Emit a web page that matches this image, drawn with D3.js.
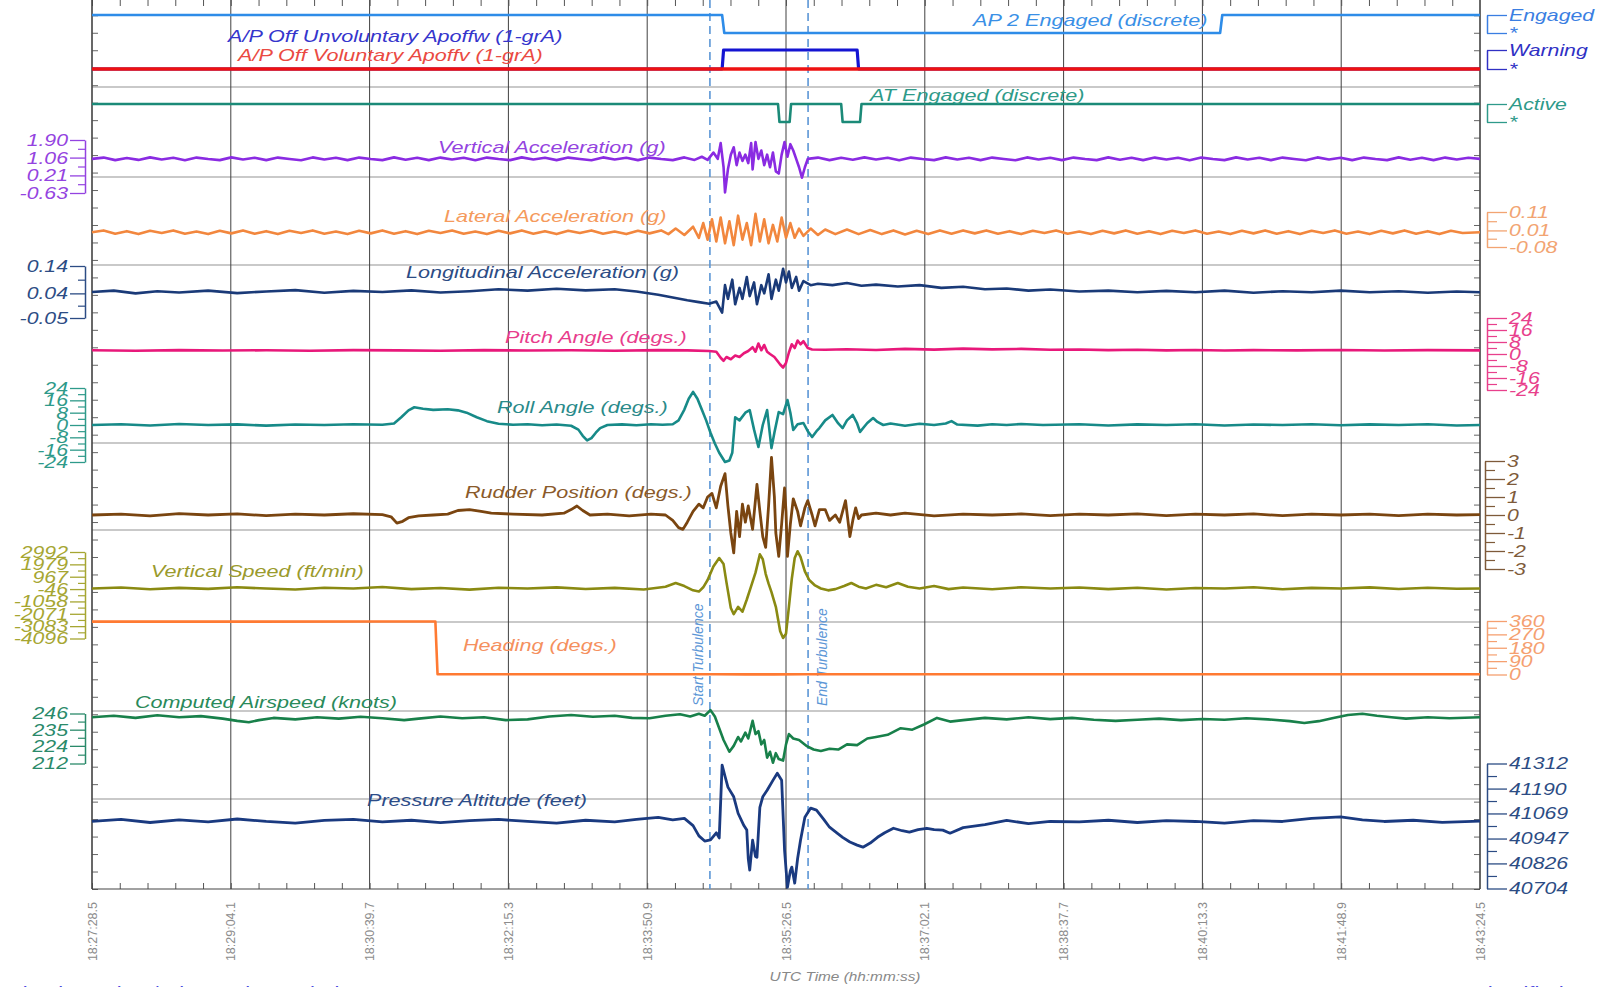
<!DOCTYPE html>
<html>
<head>
<meta charset="utf-8">
<script src="https://cdn.jsdelivr.net/npm/d3@7"></script>
<style>
  body { margin: 0; background: #fff; }
  svg text { font-family: "Liberation Sans", Arial, sans-serif; font-style: italic; }
</style>
</head>
<body>
<div id="chart"></div>
<script>
// time is in seconds after 18:27:28.5
const timeLabels = ["18:27:28.5", "18:29:04.1", "18:30:39.7", "18:32:15.3", "18:33:50.9", "18:35:26.5",
  "18:37:02.1", "18:38:37.7", "18:40:13.3", "18:41:48.9", "18:43:24.5"];
const timeTicks = [0, 95.6, 191.2, 286.8, 382.4, 478, 573.6, 669.2, 764.8, 860.4, 956];
const turbulenceTimes = [425.6, 493.2];
const turbulenceLabels = ["Start Turbulence", "End Turbulence"];

const seriesNames = ["A/P Off Unvoluntary Apoffw (1-grA)", "A/P Off Voluntary Apoffv (1-grA)",
  "AP 2 Engaged (discrete)", "AT Engaged (discrete)", "Vertical Acceleration (g)",
  "Lateral Acceleration (g)", "Longitudinal Acceleration (g)", "Pitch Angle (degs.)",
  "Roll Angle (degs.)", "Rudder Position (degs.)", "Vertical Speed (ft/min)", "Heading (degs.)",
  "Computed Airspeed (knots)", "Pressure Altitude (feet)"];

// discrete signals (1 = on)
const ap2Engaged = [[0, 1], [434, 1], [435.5, 0], [777, 0], [778.5, 1], [956, 1]];
const apOffUnvol = [[0, 0], [434, 0], [435, 1], [527, 1], [528, 0], [956, 0]];
const apOffVol = [[0, 0], [956, 0]];
const atEngaged = [[0, 1], [472.5, 1], [473.5, 0], [480.5, 0], [481.5, 1], [516, 1], [517, 0], [529, 0], [530, 1], [956, 1]];

const vertAccel = [[0,1.0],[8,1.06],[16,0.94],[24,1.04],[32,0.95],[40,1.07],[48,0.97],[56,1.05],[64,0.93],[72,1.06],[80,0.99],[88,0.94],[96,1.07],[104,0.97],[112,1.05],[120,0.94],[128,1.06],[136,0.99],[144,0.93],[152,1.07],[160,0.97],[168,1.05],[176,0.94],[184,1.06],[192,0.99],[200,0.94],[208,1.07],[216,0.96],[224,1.05],[232,0.94],[240,1.06],[248,0.97],[256,1.05],[264,0.93],[272,1.06],[280,0.99],[288,0.94],[296,1.07],[304,0.97],[312,1.05],[320,0.94],[328,1.06],[336,0.99],[344,0.93],[352,1.07],[360,0.97],[368,1.05],[376,0.94],[384,1.06],[392,0.99],[400,0.94],[408,1.07],[415,0.95],[420,1.1],[424,0.95],[428,1.3],[431,1.0],[433,1.75],[435,0.6],[436,-0.6],[438,0.5],[440,1.2],[442,1.55],[444,0.7],[446,1.3],[448,0.9],[450,1.2],[452,0.8],[454,1.75],[455,0.5],[457,1.8],[459,1.0],[461,1.4],[463,0.7],[465,1.2],[467,0.6],[469,1.3],[471,0.4],[473,0.3],[475,1.2],[477,1.8],[479,1.1],[481,1.7],[483,1.4],[485,1.0],[487,0.6],[489,0.1],[491,0.6],[493,1.0],[500,1.06],[508,0.94],[516,1.05],[524,0.96],[532,1.07],[540,0.97],[548,1.05],[556,0.93],[564,1.06],[572,0.99],[580,0.94],[588,1.07],[596,0.97],[604,1.05],[612,0.94],[620,1.06],[628,0.99],[636,0.93],[644,1.07],[652,0.97],[660,1.05],[668,0.94],[676,1.06],[684,0.99],[692,0.94],[700,1.07],[708,0.96],[716,1.05],[724,0.94],[732,1.06],[740,0.97],[748,1.05],[756,0.93],[764,1.06],[772,0.99],[780,0.94],[788,1.07],[796,0.97],[804,1.05],[812,0.94],[820,1.06],[828,0.99],[836,0.93],[844,1.07],[852,0.97],[860,1.05],[868,0.94],[876,1.06],[884,0.99],[892,0.94],[900,1.07],[908,0.96],[916,1.05],[924,0.94],[932,1.06],[940,0.97],[948,1.05],[956,1.0]];

const latAccel = [[0,0.0],[8,0.01],[16,-0.008],[24,0.006],[32,-0.01],[40,0.008],[48,-0.004],[56,0.01],[64,-0.008],[72,0.004],[80,-0.01],[88,0.008],[96,-0.006],[104,0.01],[112,-0.008],[120,0.006],[128,-0.01],[136,0.008],[144,-0.004],[152,0.01],[160,-0.008],[168,0.004],[176,-0.01],[184,0.008],[192,-0.006],[200,0.01],[208,-0.008],[216,0.006],[224,-0.01],[232,0.008],[240,-0.004],[248,0.01],[256,-0.008],[264,0.004],[272,-0.01],[280,0.008],[288,-0.006],[296,0.01],[304,-0.008],[312,0.006],[320,-0.01],[328,0.008],[336,-0.004],[344,0.01],[352,-0.008],[360,0.004],[368,-0.01],[376,0.008],[384,-0.006],[392,0.01],[397,-0.01],[402,0.02],[408,-0.015],[414,0.03],[418,-0.03],[421,0.05],[424,-0.04],[427,0.07],[430,-0.05],[433,0.08],[436,-0.06],[439,0.06],[442,-0.07],[445,0.09],[448,-0.04],[451,0.05],[454,-0.07],[457,0.1],[460,-0.05],[463,0.07],[466,-0.06],[469,0.04],[472,-0.05],[475,0.08],[478,-0.03],[481,0.05],[484,-0.03],[487,0.02],[490,-0.02],[495,0.02],[500,-0.015],[505,0.015],[512,-0.01],[520,0.015],[528,-0.01],[536,0.012],[544,-0.01],[552,0.01],[560,-0.012],[568,0.008],[576,-0.01],[584,0.01],[592,-0.008],[600,0.01],[608,-0.006],[616,0.01],[624,-0.008],[632,0.006],[640,-0.01],[648,0.008],[656,-0.004],[664,0.01],[672,-0.008],[680,0.004],[688,-0.01],[696,0.008],[704,-0.006],[712,0.01],[720,-0.008],[728,0.006],[736,-0.01],[744,0.008],[752,-0.004],[760,0.01],[768,-0.008],[776,0.004],[784,-0.01],[792,0.008],[800,-0.006],[808,0.01],[816,-0.008],[824,0.006],[832,-0.01],[840,0.008],[848,-0.004],[856,0.01],[864,-0.008],[872,0.004],[880,-0.01],[888,0.008],[896,-0.006],[904,0.01],[912,-0.008],[920,0.006],[928,-0.01],[936,0.008],[944,-0.004],[956,0.0]];

const lonAccel = [[0,0.045],[15,0.05],[30,0.04],[45,0.048],[60,0.043],[80,0.05],[100,0.041],[120,0.047],[140,0.052],[160,0.042],[180,0.049],[200,0.045],[220,0.051],[240,0.043],[260,0.048],[280,0.055],[300,0.05],[320,0.057],[340,0.051],[360,0.055],[375,0.047],[390,0.035],[400,0.025],[410,0.015],[418,0.008],[425,0.002],[430,0.01],[434,-0.03],[436,0.07],[438,0.02],[441,0.09],[443,0.0],[446,0.06],[448,0.02],[451,0.1],[453,0.03],[456,0.08],[458,0.0],[461,0.07],[463,0.04],[466,0.11],[468,0.02],[471,0.09],[473,0.05],[476,0.13],[478,0.08],[480,0.12],[482,0.06],[485,0.1],[487,0.05],[490,0.085],[495,0.07],[500,0.075],[510,0.07],[520,0.078],[530,0.068],[540,0.072],[555,0.065],[570,0.07],[585,0.06],[600,0.064],[615,0.055],[630,0.058],[645,0.05],[660,0.054],[680,0.047],[700,0.05],[720,0.044],[740,0.049],[760,0.044],[780,0.05],[800,0.042],[820,0.048],[840,0.044],[860,0.05],[880,0.044],[900,0.048],[920,0.042],[940,0.047],[956,0.044]];

const pitch = [[0,2.5],[30,2.2],[60,2.6],[90,2.3],[120,2.5],[150,2.2],[180,2.6],[210,2.4],[240,2.2],[270,2.6],[300,2.3],[330,2.5],[360,2.2],[390,2.6],[410,2.4],[425,2.0],[430,1.5],[433,-2.5],[435,-4.5],[437,-2.0],[440,-3.5],[443,-1.0],[446,-2.0],[449,0.5],[452,2.0],[455,4.5],[457,1.5],[459,7.0],[461,2.5],[463,6.0],[465,1.5],[467,0.0],[470,-2.0],[472,-4.5],[474,-7.0],[476,-9.0],[478,-6.0],[480,1.0],[482,6.5],[484,4.0],[486,9.0],[488,6.5],[490,8.5],[493,4.0],[496,3.0],[505,2.8],[520,3.2],[540,2.7],[560,3.4],[580,2.9],[600,3.6],[620,3.1],[640,3.4],[660,2.8],[680,3.0],[700,2.6],[720,2.8],[740,2.4],[760,2.7],[780,2.3],[800,2.6],[830,2.4],[860,2.7],[890,2.3],[920,2.6],[956,2.4]];

const roll = [[0,0],[20,0.5],[40,-0.3],[60,0.6],[80,0.0],[100,0.4],[120,-0.4],[140,0.3],[160,0.0],[180,0.5],[200,0.2],[208,1.0],[213,5.0],[218,9.5],[222,11.5],[228,10.5],[235,9.8],[245,10.2],[252,9.5],[258,8.0],[265,5.0],[272,2.5],[280,0.8],[290,0.2],[300,0.5],[310,-0.2],[320,0.3],[330,-0.5],[335,-3.0],[338,-7.0],[341,-10.0],[344,-8.5],[347,-5.0],[350,-2.0],[355,0.0],[365,0.4],[375,-0.2],[385,0.5],[393,0.2],[400,0.5],[404,3],[408,10],[411,17],[414,21.5],[417,17],[420,10],[423,3],[426,-5],[429,-12],[432,-18],[436,-24],[439,-23],[441,-18],[443,5],[446,3],[450,8],[453,9.7],[456,-3],[459,-14.3],[462,0],[465,9.7],[468,-15],[470,-5],[473,8.4],[476,7],[479,16.2],[481,8],[483,-3.2],[486,0.5],[490,1.3],[493,-4],[496,-7.8],[499,-4],[501,-2],[505,3],[510,6.5],[514,1],[517,-2],[520,3],[524,6.5],[527,1],[529,-4.5],[532,-1],[534,1.3],[538,4.5],[541,2],[545,0],[550,1.0],[560,-0.5],[570,0.8],[580,0.0],[588,1.0],[592,2.5],[596,0.3],[610,-0.4],[620,0.5],[630,0.0],[640,0.6],[655,0.0],[680,0.5],[700,-0.3],[720,0.4],[740,0.0],[760,0.5],[780,-0.3],[800,0.3],[820,0.0],[840,0.5],[860,-0.2],[880,0.4],[900,0.0],[920,0.5],[940,-0.3],[956,0.0]];

const rudder = [[0,0],[20,0.05],[40,-0.05],[60,0.08],[80,0.0],[100,0.06],[120,-0.04],[140,0.05],[160,0.0],[180,0.07],[200,0.02],[206,-0.1],[210,-0.45],[214,-0.35],[218,-0.15],[225,-0.05],[235,0.0],[245,0.05],[252,0.25],[260,0.3],[268,0.2],[275,0.1],[290,0.05],[310,0.0],[325,0.1],[330,0.3],[334,0.5],[338,0.25],[343,0.0],[355,0.05],[370,-0.05],[385,0.05],[395,0.0],[400,-0.3],[404,-0.7],[407,-0.8],[410,-0.4],[414,0.2],[418,0.6],[421,0.4],[424,1.0],[427,1.2],[430,0.4],[433,1.6],[436,2.3],[438,0.5],[440,-1.0],[442,-2.1],[444,0.2],[446,-1.2],[448,0.6],[450,-0.4],[452,0.5],[455,-0.8],[458,1.7],[460,0.2],[462,-1.2],[464,-1.8],[466,0.5],[468,3.2],[470,1.0],[471,-1.0],[473,-2.3],[475,-0.5],[477,1.5],[478,0.2],[479,-2.3],[481,-0.5],[483,0.9],[486,0.2],[488,-0.6],[491,0.4],[493,0.8],[496,0.0],[498,-0.6],[501,0.3],[505,0.3],[508,-0.3],[512,0.0],[515,-0.4],[519,0.8],[522,-1.2],[524,-0.3],[526,0.4],[528,-0.2],[530,0.0],[540,0.1],[550,0.0],[560,0.1],[580,-0.05],[600,0.05],[620,0.0],[640,0.06],[660,-0.04],[680,0.05],[700,0.0],[720,0.06],[740,-0.03],[760,0.05],[780,0.0],[800,0.06],[820,-0.04],[840,0.05],[860,0.0],[880,0.05],[900,-0.03],[920,0.05],[940,0.0],[956,0.02]];

const vertSpeed = [[0,0],[20,80],[40,-60],[60,50],[80,-30],[100,100],[120,0],[140,-80],[160,60],[180,0],[200,120],[220,-50],[240,40],[260,-90],[280,60],[300,0],[320,90],[340,-40],[360,50],[380,-80],[395,150],[402,450],[408,200],[414,-150],[418,-250],[421,100],[424,700],[428,1800],[432,2500],[435,2000],[437,500],[440,-1600],[442,-2100],[445,-1500],[448,-1900],[451,-900],[454,200],[457,1300],[460,2800],[462,2400],[464,1200],[466,400],[468,-300],[471,-1500],[474,-3500],[476,-4050],[478,-3700],[480,-1500],[482,800],[484,2500],[486,3050],[488,2600],[491,1400],[494,700],[498,250],[502,0],[507,-150],[512,-50],[518,200],[523,450],[528,150],[533,0],[540,300],[547,100],[555,450],[562,150],[570,0],[580,200],[590,-50],[600,80],[620,-60],[640,100],[660,0],[680,80],[700,-50],[720,60],[740,-80],[760,40],[780,0],[800,100],[820,-60],[840,50],[860,0],[880,90],[900,-40],[920,60],[940,-20],[956,0]];

const heading = [[0,356],[100,356],[200,356.5],[236.5,356.5],[238,1.5],[300,1.5],[400,1.8],[430,1.2],[450,0.8],[470,1.0],[490,1.5],[600,1.6],[800,1.5],[956,1.5]];

const airspeed = [[0,243.5],[15,244.5],[30,243],[45,244.8],[60,243.5],[75,244.2],[90,242.5],[100,241],[108,240],[115,241.5],[125,243],[140,242],[155,243.5],[170,242.5],[185,243.8],[200,242.8],[215,241.5],[225,242.5],[240,244],[255,242.8],[270,243.5],[285,241.5],[300,242],[315,244],[330,245],[345,243.8],[360,244.5],[372,243],[384,242.8],[395,244.5],[405,245.5],[412,244],[418,245.8],[422,244.5],[426,248.3],[429,244],[432,236],[435,228],[439,220],[442,224],[445,230],[447,227],[450,233],[452,229],[455,241],[457,232],[459,234],[461,225],[463,228],[465,216],[467,220],[469,212.5],[471,219],[473,215],[476,214],[478,225],[480,232],[483,229],[487,228],[492,224],[497,221.5],[502,220.5],[508,222],[514,221.5],[520,225],[527,224.5],[534,229],[540,230],[548,231.5],[557,236],[565,235],[573,238.5],[582,243],[591,240.5],[600,241.5],[615,243],[630,242],[645,243.5],[660,242.2],[675,243],[690,241.8],[705,241],[720,241.8],[735,242.5],[750,241.5],[765,242.3],[780,241.8],[795,242.8],[810,242],[825,240.8],[835,239.5],[845,240.8],[855,243],[865,245],[875,245.8],[885,244.5],[895,243.5],[905,242.5],[920,243.5],[935,242.8],[956,243.5]];

const altitude = [[0,41030],[20,41040],[40,41025],[60,41038],[80,41028],[100,41042],[120,41030],[140,41022],[160,41035],[180,41040],[200,41028],[220,41036],[240,41024],[260,41034],[280,41040],[300,41030],[320,41022],[340,41036],[360,41028],[375,41040],[390,41050],[400,41038],[408,41045],[414,41010],[418,40960],[422,40935],[426,40940],[430,40975],[432,40950],[434,41304],[436,41250],[438,41197],[442,41150],[445,41070],[449,41010],[451,40988],[452,40850],[453,40793],[455,40939],[457,40860],[458,40856],[460,41099],[462,41150],[465,41182],[469,41230],[472,41265],[475,41231],[477,40890],[479,40710],[481,40790],[482,40808],[484,40730],[486,40850],[488,40939],[491,41051],[495,41095],[499,41085],[504,41040],[508,41002],[513,40975],[517,40953],[522,40930],[527,40915],[531,40905],[536,40925],[541,40953],[546,40975],[552,40997],[558,40985],[563,40978],[569,40990],[575,40997],[580,40990],[586,40988],[591,40973],[600,41000],[615,41015],[630,41035],[645,41020],[660,41030],[680,41028],[700,41036],[720,41025],[740,41034],[760,41030],[780,41022],[800,41034],[820,41030],[840,41045],[860,41052],[875,41038],[890,41030],[910,41036],[930,41026],[956,41032]];

// axis tick values
const vertAccelTicks = [1.90, 1.06, 0.21, -0.63];
const lonAccelTicks = [0.14, 0.04, -0.05];
const rollTicks = [24, 16, 8, 0, -8, -16, -24];
const vertSpeedTicks = [2992, 1979, 967, -46, -1058, -2071, -3083, -4096];
const airspeedTicks = [246, 235, 224, 212];
const latAccelTicks = [0.11, 0.01, -0.08];
const pitchTicks = [24, 16, 8, 0, -8, -16, -24];
const rudderTicks = [3, 2, 1, 0, -1, -2, -3];
const headingTicks = [360, 270, 180, 90, 0];
const altitudeTicks = [41312, 41190, 41069, 40947, 40826, 40704];
const stateNames = [["Engaged", "*"], ["Warning", "*"], ["Active", "*"]];

const footerLeft = "Kinetic Motion / Kinematics Turbulence";
const footerRight = "System Identified";

// ---------- layout ----------
const W = 1609, H = 987;
const plot = { left: 92, right: 1480, top: 0, bottom: 889 };
const STRETCH = 1.27; // the reference text is wide

const x = d3.scaleLinear().domain([0, 956]).range([plot.left, plot.right]);

const engagedY = d3.scaleLinear().domain([0, 1]).range([33, 15]);
const warnY = d3.scaleLinear().domain([0, 1]).range([69, 50]);
const activeY = d3.scaleLinear().domain([0, 1]).range([122, 104]);
const vaccY = d3.scaleLinear().domain([-0.63, 1.90]).range([193, 140]);
const latY = d3.scaleLinear().domain([-0.08, 0.11]).range([247, 212]);
const lonY = d3.scaleLinear().domain([-0.05, 0.14]).range([318, 266]);
const pitchY = d3.scaleLinear().domain([-24, 24]).range([390, 318]);
const rollY = d3.scaleLinear().domain([-24, 24]).range([462, 388]);
const rudY = d3.scaleLinear().domain([-3, 3]).range([569, 461]);
const vsY = d3.scaleLinear().domain([-4096, 2992]).range([638.5, 552]);
const hdgY = d3.scaleLinear().domain([0, 360]).range([674.5, 621]);
const casY = d3.scaleLinear().domain([212, 246]).range([763.5, 713.5]);
const altY = d3.scaleLinear().domain([40704, 41312]).range([888.5, 763.5]);
const frameY = d3.scaleLinear().domain([0, 50]).range([15.3, 889]);

const grayLines = [87, 177, 265, 443, 530, 622, 711, 799];

// plain hyphen minus like the reference
const fixed2 = (d) => d.toFixed(2);
const whole = (d) => String(d);

const svg = d3.select("#chart").append("svg").attr("width", W).attr("height", H);

function widen(sel, k) {
  sel.each(function () {
    const w = this.getComputedTextLength();
    d3.select(this).attr("textLength", w * k).attr("lengthAdjust", "spacingAndGlyphs");
  });
}

// light gray separators
svg.selectAll(".sep").data(grayLines).enter().append("line")
  .attr("x1", plot.left).attr("x2", plot.right)
  .attr("y1", (d) => d).attr("y2", (d) => d)
  .attr("stroke", "#c9c9c9").attr("stroke-width", 2);

// vertical time grid
svg.selectAll(".vgrid").data(timeTicks).enter().append("line")
  .attr("x1", (d) => x(d)).attr("x2", (d) => x(d))
  .attr("y1", plot.top).attr("y2", plot.bottom)
  .attr("stroke", "#404040").attr("stroke-width", 1);

// frame ticks
const minorTimes = d3.range(0, 50).map((i) => i * 19.12);
svg.append("g").attr("transform", `translate(0,${plot.bottom})`)
  .call(d3.axisTop(x).tickValues(minorTimes).tickSize(6).tickSizeOuter(0).tickFormat(""))
  .call((g) => g.select(".domain").remove())
  .selectAll("line").attr("stroke", "#555");
svg.append("g").attr("transform", `translate(0,${plot.top})`)
  .call(d3.axisBottom(x).tickValues(minorTimes).tickSize(6).tickSizeOuter(0).tickFormat(""))
  .call((g) => g.select(".domain").remove())
  .selectAll("line").attr("stroke", "#555");
svg.append("g").attr("transform", `translate(${plot.left},0)`)
  .call(d3.axisRight(frameY).ticks(50).tickSize(6).tickSizeOuter(0).tickFormat(""))
  .call((g) => g.select(".domain").remove())
  .selectAll("line").attr("stroke", "#666");
svg.append("g").attr("transform", `translate(${plot.right},0)`)
  .call(d3.axisLeft(frameY).ticks(50).tickSize(6).tickSizeOuter(0).tickFormat(""))
  .call((g) => g.select(".domain").remove())
  .selectAll("line").attr("stroke", "#666");

// frame lines
svg.append("line").attr("x1", plot.left).attr("x2", plot.left).attr("y1", 0).attr("y2", plot.bottom)
  .attr("stroke", "#444").attr("stroke-width", 1.2);
svg.append("line").attr("x1", plot.right).attr("x2", plot.right).attr("y1", 0).attr("y2", plot.bottom)
  .attr("stroke", "#444").attr("stroke-width", 1.2);
svg.append("line").attr("x1", plot.left).attr("x2", plot.right).attr("y1", plot.bottom).attr("y2", plot.bottom)
  .attr("stroke", "#444").attr("stroke-width", 1.2);

// turbulence markers
svg.selectAll(".turb").data(turbulenceTimes).enter().append("line")
  .attr("x1", (d) => x(d)).attr("x2", (d) => x(d))
  .attr("y1", plot.top).attr("y2", plot.bottom)
  .attr("stroke", "#5b96d6").attr("stroke-width", 1.6).attr("stroke-dasharray", "8,5");
svg.selectAll(".turbLabel").data(turbulenceTimes).enter().append("text")
  .attr("transform", (d, i) => `translate(${x(d) + (i === 0 ? -7 : 19)},706) rotate(-90)`)
  .attr("fill", "#5b96d6").style("font-size", "14px")
  .text((d, i) => turbulenceLabels[i]);

// signals
const line = (yScale) => d3.line().x((d) => x(d[0])).y((d) => yScale(d[1]));
const signals = [
  { data: ap2Engaged, y: engagedY, color: "#2e8ce8", w: 2.6 },
  { data: apOffUnvol, y: warnY, color: "#1414d2", w: 3.2 },
  { data: apOffVol, y: warnY, color: "#ee1111", w: 3.4 },
  { data: atEngaged, y: activeY, color: "#1b8a78", w: 2.6 },
  { data: vertAccel, y: vaccY, color: "#8a2be2", w: 2.6 },
  { data: latAccel, y: latY, color: "#f2873e", w: 2.6 },
  { data: lonAccel, y: lonY, color: "#1a3a78", w: 2.6 },
  { data: pitch, y: pitchY, color: "#e8187a", w: 2.6 },
  { data: roll, y: rollY, color: "#178a88", w: 2.6 },
  { data: rudder, y: rudY, color: "#7a4510", w: 2.8 },
  { data: vertSpeed, y: vsY, color: "#8a8a12", w: 2.6 },
  { data: heading, y: hdgY, color: "#ff7a32", w: 2.6 },
  { data: airspeed, y: casY, color: "#18804a", w: 2.6 },
  { data: altitude, y: altY, color: "#1a3a80", w: 2.8 }
];
signals.forEach((s) => {
  svg.append("path").datum(s.data)
    .attr("fill", "none").attr("stroke", s.color).attr("stroke-width", s.w)
    .attr("stroke-linejoin", "round").attr("d", line(s.y));
});

// series labels
const labelColors = ["#3535cc", "#ea4a42", "#3a90e6", "#2e9a88", "#9443e0", "#f59a5c", "#2c4c84",
  "#e83c8c", "#2a8a8a", "#8a5a2a", "#9a9a2c", "#f5905e", "#2a8a5a", "#2c4c88"];
const labelPos = [[228, 42], [238, 61], [973, 26], [870, 101], [438, 153], [444, 222], [406, 278],
  [505, 343], [497, 413], [465, 498], [151, 577], [463, 651], [135, 708], [367, 806]];
const labels = svg.selectAll(".slabel").data(seriesNames).enter().append("text")
  .attr("x", (d, i) => labelPos[i][0]).attr("y", (d, i) => labelPos[i][1])
  .attr("fill", (d, i) => labelColors[i]).style("font-size", "17px")
  .text((d) => d);
widen(labels, STRETCH);

// value axes
function valueAxis(side, xPos, scale, ticks, fmt, color, minor = true) {
  const left = side === "left";
  const ax = (left ? d3.axisLeft(scale) : d3.axisRight(scale))
    .tickValues(ticks).tickSize(left ? 15 : 20).tickSizeOuter(0).tickPadding(2).tickFormat(fmt);
  const g = svg.append("g").attr("transform", `translate(${xPos},0)`).call(ax);
  g.select(".domain").attr("stroke", color).attr("stroke-width", 1.5);
  g.selectAll(".tick line").attr("stroke", color).attr("stroke-width", 1.3);
  const txt = g.selectAll(".tick text").attr("fill", color)
    .style("font-size", "17px").style("font-family", '"Liberation Sans", Arial, sans-serif');
  widen(txt, STRETCH - 0.02);
  if (minor) {
    const mids = d3.pairs(ticks).map((p) => (p[0] + p[1]) / 2);
    const m = svg.append("g").attr("transform", `translate(${xPos},0)`)
      .call((left ? d3.axisLeft(scale) : d3.axisRight(scale)).tickValues(mids).tickSize(left ? 7 : 10).tickFormat(""));
    m.select(".domain").remove();
    m.selectAll("line").attr("stroke", color).attr("stroke-width", 1.2);
  }
}

valueAxis("left", 85, vaccY, vertAccelTicks, fixed2, "#9443e0");
valueAxis("left", 85, lonY, lonAccelTicks, fixed2, "#2c4c84");
valueAxis("left", 85, rollY, rollTicks, whole, "#2e9a8a");
valueAxis("left", 85, vsY, vertSpeedTicks, whole, "#a6a632");
valueAxis("left", 85, casY, airspeedTicks, whole, "#2a8a6a");
valueAxis("right", 1487, latY, latAccelTicks, fixed2, "#f2a472");
valueAxis("right", 1487, pitchY, pitchTicks, whole, "#e8408c");
valueAxis("right", 1485, rudY, rudderTicks, whole, "#7e5a3a");
valueAxis("right", 1487, hdgY, headingTicks, whole, "#f5a070");
valueAxis("right", 1487, altY, altitudeTicks, whole, "#2c4c84");

const stateScales = [engagedY, warnY, activeY];
const stateColors = ["#3a7ee2", "#3030c4", "#2e9a8a"];
stateNames.forEach((names, i) => {
  valueAxis("right", 1487, stateScales[i], [1, 0], (d) => (d ? names[0] : names[1]), stateColors[i], false);
});

// time labels
svg.selectAll(".tlabel").data(timeTicks).enter().append("text")
  .attr("transform", (d) => `translate(${x(d) + 4.5},902) rotate(-90)`)
  .attr("text-anchor", "end").attr("fill", "#8c8c8c")
  .style("font-size", "12.5px").style("font-style", "normal")
  .text((d, i) => timeLabels[i]);

const xTitle = svg.append("text").attr("x", 845).attr("y", 981).attr("text-anchor", "middle")
  .attr("fill", "#888").style("font-size", "12px").text("UTC Time (hh:mm:ss)");
widen(xTitle, 1.28);

// footer, cut by the page edge
svg.append("text").attr("x", 8).attr("y", 1002).attr("fill", "#4a4ae0")
  .style("font-size", "22px").style("font-style", "normal").text(footerLeft);
svg.append("text").attr("x", 1395).attr("y", 1002).attr("fill", "#4a4ae0")
  .style("font-size", "22px").style("font-style", "normal").text(footerRight);
</script>
</body>
</html>
